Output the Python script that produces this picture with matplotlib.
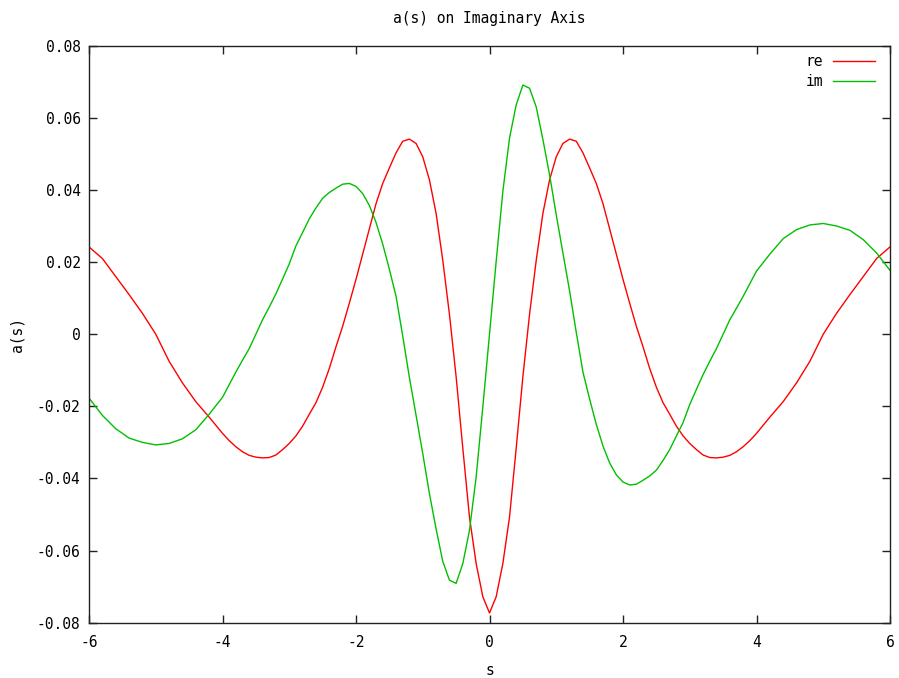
import matplotlib
matplotlib.use("Agg")
import matplotlib.pyplot as plt

# s grid (positive half)
s_pos = [0.0, 0.1, 0.2, 0.3, 0.4, 0.5, 0.6, 0.7, 0.8, 0.9,
         1.0, 1.1, 1.2, 1.3, 1.4, 1.5, 1.6, 1.7, 1.8, 1.9,
         2.0, 2.1, 2.2, 2.3, 2.4, 2.5, 2.6, 2.7, 2.8, 2.9,
         3.0, 3.1, 3.2, 3.3, 3.4, 3.5, 3.6, 3.7, 3.8, 3.9,
         4.0, 4.2, 4.4, 4.6, 4.8, 5.0, 5.2, 5.4, 5.6, 5.8, 6.0]

re_pos = [-0.0773, -0.0728, -0.0636, -0.0507, -0.0316, -0.0118, 0.0055, 0.0205, 0.0335, 0.0428,
          0.0492, 0.0529, 0.0541, 0.0535, 0.0503, 0.0461, 0.0418, 0.0362, 0.0292, 0.0222,
          0.0152, 0.0086, 0.0022, -0.0035, -0.0095, -0.0147, -0.0190, -0.0222, -0.0255, -0.0282,
          -0.0303, -0.0320, -0.0335, -0.0342, -0.0343, -0.0341, -0.0336, -0.0326, -0.0312, -0.0295,
          -0.0275, -0.0230, -0.0187, -0.0135, -0.0075, 0.0000, 0.0058, 0.0110, 0.0160, 0.0210, 0.0242]

im_pos = [0.0000, 0.0202, 0.0396, 0.0544, 0.0636, 0.0691, 0.0682, 0.0630, 0.0540, 0.0442,
          0.0331, 0.0225, 0.0120, 0.0005, -0.0105, -0.0180, -0.0250, -0.0310, -0.0357, -0.0390,
          -0.0410, -0.0418, -0.0416, -0.0405, -0.0393, -0.0377, -0.0350, -0.0320, -0.0282, -0.0245,
          -0.0195, -0.0153, -0.0112, -0.0075, -0.0040, 0.0000, 0.0040, 0.0072, 0.0105, 0.0140,
          0.0175, 0.0222, 0.0265, 0.0290, 0.0303, 0.0307, 0.0300, 0.0288, 0.0262, 0.0225, 0.0177]

# full curves: re is even, im is odd (as seen in the picture)
s_vals = [-v for v in s_pos[:0:-1]] + s_pos
re_vals = re_pos[:0:-1] + re_pos
im_vals = [-v for v in im_pos[:0:-1]] + im_pos

x_ticks = [-6, -4, -2, 0, 2, 4, 6]
y_ticks = [-0.08, -0.06, -0.04, -0.02, 0.0, 0.02, 0.04, 0.06, 0.08]
y_tick_labels = ["-0.08", "-0.06", "-0.04", "-0.02", "0", "0.02", "0.04", "0.06", "0.08"]
x_tick_labels = ["-6", "-4", "-2", "0", "2", "4", "6"]

plt.rcParams['font.family'] = ['DejaVu Sans Mono']
plt.rcParams['axes.unicode_minus'] = False

fig = plt.figure(figsize=(8.99, 6.78), dpi=100)
ax = fig.add_axes([89/899, 1 - 622.7/678, (890 - 89)/899, (622.7 - 45.7)/678])

ax.plot(s_vals, re_vals, color="#ff0000", lw=1.0, label="re")
ax.plot(s_vals, im_vals, color="#00c000", lw=1.0, label="im")

ax.set_xlim(-6, 6)
ax.set_ylim(-0.08, 0.08)
ax.set_xticks(x_ticks)
ax.set_xticklabels(x_tick_labels)
ax.set_yticks(y_ticks)
ax.set_yticklabels(y_tick_labels)

fs = 10.5
ax.tick_params(direction="in", length=5.5, width=1.0, top=True, right=True,
               labelsize=fs, colors="#222222", labelcolor="black")
ax.tick_params(axis="x", pad=9)
ax.tick_params(axis="y", pad=6)
for sp in ax.spines.values():
    sp.set_linewidth(1.0)
    sp.set_color("#222222")

ax.set_title("a(s) on Imaginary Axis", fontsize=fs, pad=16)
ax.set_xlabel("s", fontsize=fs, labelpad=9)
ax.set_ylabel("a(s)", fontsize=fs)
ax.yaxis.set_label_coords(-0.080, 0.5)

ax.legend(loc="upper right", frameon=False, markerfirst=False, fontsize=fs,
          handlelength=2.9, handletextpad=0.7, labelspacing=0.35,
          borderaxespad=0.4, borderpad=0.4,
          bbox_to_anchor=(1 - 3/801, 1 + 3/577))

fig.savefig("out.png", dpi=100)
